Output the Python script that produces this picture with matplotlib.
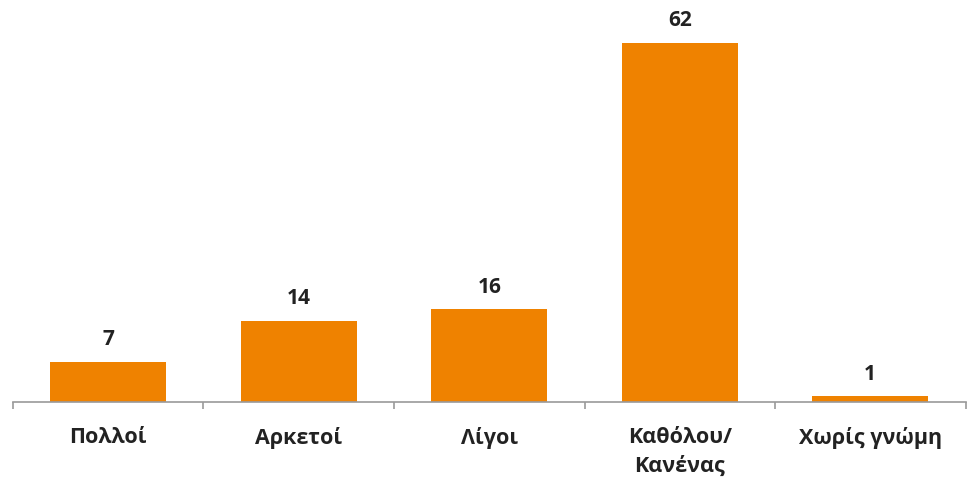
import numpy as np
import matplotlib
matplotlib.use('Agg')
import matplotlib.pyplot as plt
from matplotlib.ticker import FixedLocator, NullFormatter

categories = ['Πολλοί', 'Αρκετοί', 'Λίγοι', 'Καθόλου/\nΚανένας', 'Χωρίς γνώμη']
values = [7, 14, 16, 62, 1]

plt.rcParams['font.family'] = ['Open Sans', 'DejaVu Sans']

fig = plt.figure(figsize=(9.69, 4.84), dpi=100)
ax = fig.add_axes([0.0134, 0.169, 0.983, 0.831])

x = np.arange(len(categories))
ax.bar(x, values, width=0.61, color='#EF8200')
for xi, v in zip(x, values):
    ax.annotate(str(v), (xi, v), xytext=(0, 12), textcoords='offset points',
                ha='center', va='baseline', fontsize=15, fontweight='bold',
                color='#222222')

ax.set_xlim(-0.5, len(categories) - 0.5)
ax.set_ylim(0, 69.4)
ax.set_yticks([])
for s in ['top', 'right', 'left']:
    ax.spines[s].set_visible(False)
ax.spines['bottom'].set_color('#9a9a9a')
ax.spines['bottom'].set_linewidth(1.2)

# category labels centred, tick marks between categories
ax.set_xticks(x)
ax.set_xticklabels(categories, fontsize=15.5, fontweight='bold', color='#222222',
                   linespacing=1.45, va='top')
ax.tick_params(axis='x', which='major', length=0, pad=18)
ax.xaxis.set_minor_locator(FixedLocator(np.arange(-0.5, len(categories), 1)))
ax.xaxis.set_minor_formatter(NullFormatter())
ax.tick_params(axis='x', which='minor', length=5, color='#9a9a9a', width=1.2)

fig.savefig('out.png', dpi=100)
